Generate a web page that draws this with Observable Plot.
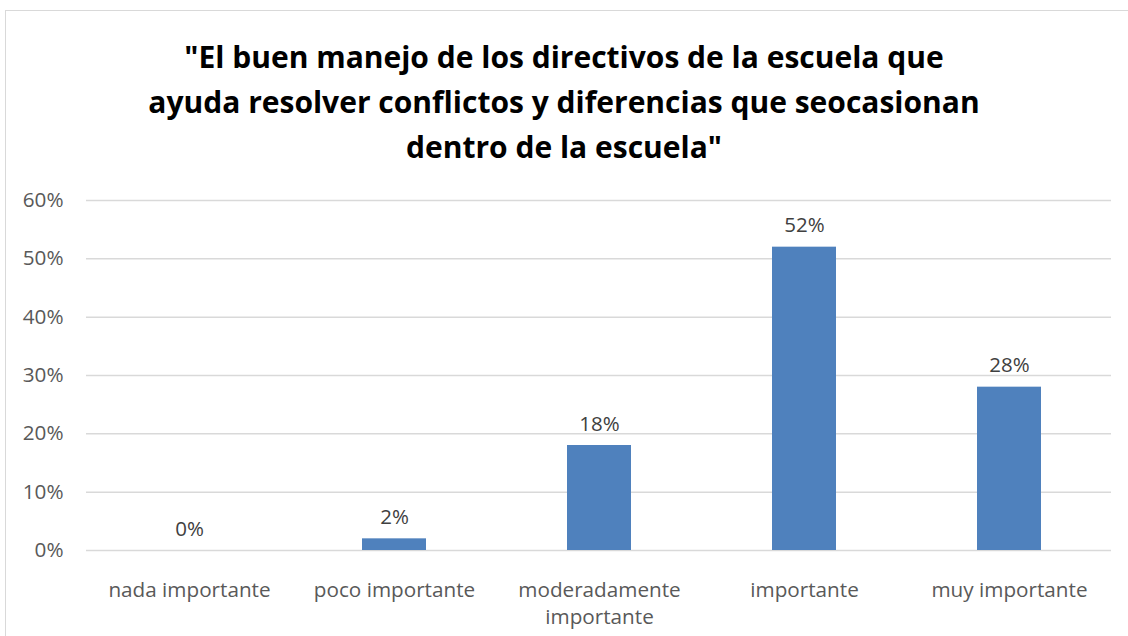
<!DOCTYPE html>
<html>
<head>
<meta charset="utf-8">
<script src="https://cdn.jsdelivr.net/npm/d3@7"></script>
<script src="https://cdn.jsdelivr.net/npm/@observablehq/plot@0.6"></script>
<style>
  html, body { margin: 0; padding: 0; background: #fff; overflow: hidden; }
  #wrap { position: relative; width: 1128px; height: 636px; }
  #title { position: absolute; top: 34px; left: 0; width: 1128px; text-align: center;
           font: bold 30px/45px "Open Sans", sans-serif; color: #000; }
  #chart { position: absolute; top: 170px; left: 0; }
  #frame { position: absolute; left: 5px; top: 10px; width: 1300px; height: 900px;
           border: 1.5px solid #d9d9d9; pointer-events: none; }
</style>
</head>
<body>
<div id="wrap">
  <div id="title"></div>
  <div id="chart"></div>
  <div id="frame"></div>
</div>
<script>
const titleLines = [
  "\"El buen manejo de los directivos de la escuela que",
  "ayuda resolver conflictos y diferencias que seocasionan",
  "dentro de la escuela\""
];
const categories = ["nada importante", "poco importante", "moderadamente importante", "importante", "muy importante"];
const tickLabels = ["nada importante", "poco importante", "moderadamente\nimportante", "importante", "muy importante"];
const values = [0, 0.02, 0.18, 0.52, 0.28];
const valueLabels = ["0%", "2%", "18%", "52%", "28%"];
const yTicks = [0, 0.1, 0.2, 0.3, 0.4, 0.5, 0.6];
const yTickLabels = ["0%", "10%", "20%", "30%", "40%", "50%", "60%"];

document.getElementById("title").innerHTML = titleLines.map(s => s.replace(/&/g,"&amp;").replace(/</g,"&lt;")).join("<br>");

const data = categories.map((c, i) => ({cat: c, value: values[i], label: valueLabels[i]}));

const chart = Plot.plot({
  width: 1128,
  height: 466,
  marginLeft: 86,
  marginRight: 17,
  marginTop: 30,
  marginBottom: 86,
  style: {fontFamily: "'Open Sans', sans-serif", fontSize: "20px", background: "transparent", color: "#595959"},
  x: {domain: categories, paddingInner: 0.688, paddingOuter: 0.344, label: null},
  y: {domain: [0, 0.6], label: null},
  marks: [
    Plot.gridY(yTicks, {stroke: "#d9d9d9", strokeOpacity: 1, strokeWidth: 1.5}),
    Plot.barY(data, {x: "cat", y: "value", fill: "#4f81bd"}),
    Plot.text(data, {x: "cat", y: "value", text: "label", lineAnchor: "bottom", dy: -15, fill: "#404040", fontSize: 20.5}),
    Plot.axisY(yTicks, {tickSize: 0, tickPadding: 23, tickFormat: (d) => yTickLabels[yTicks.indexOf(d)], fill: "#595959", fontSize: 20.7}),
    Plot.axisX({tickSize: 0, tickPadding: 28, lineHeight: 1.28, tickFormat: d => tickLabels[categories.indexOf(d)], fill: "#595959", fontSize: 20.7})
  ]
});
document.getElementById("chart").appendChild(chart);
</script>
</body>
</html>
